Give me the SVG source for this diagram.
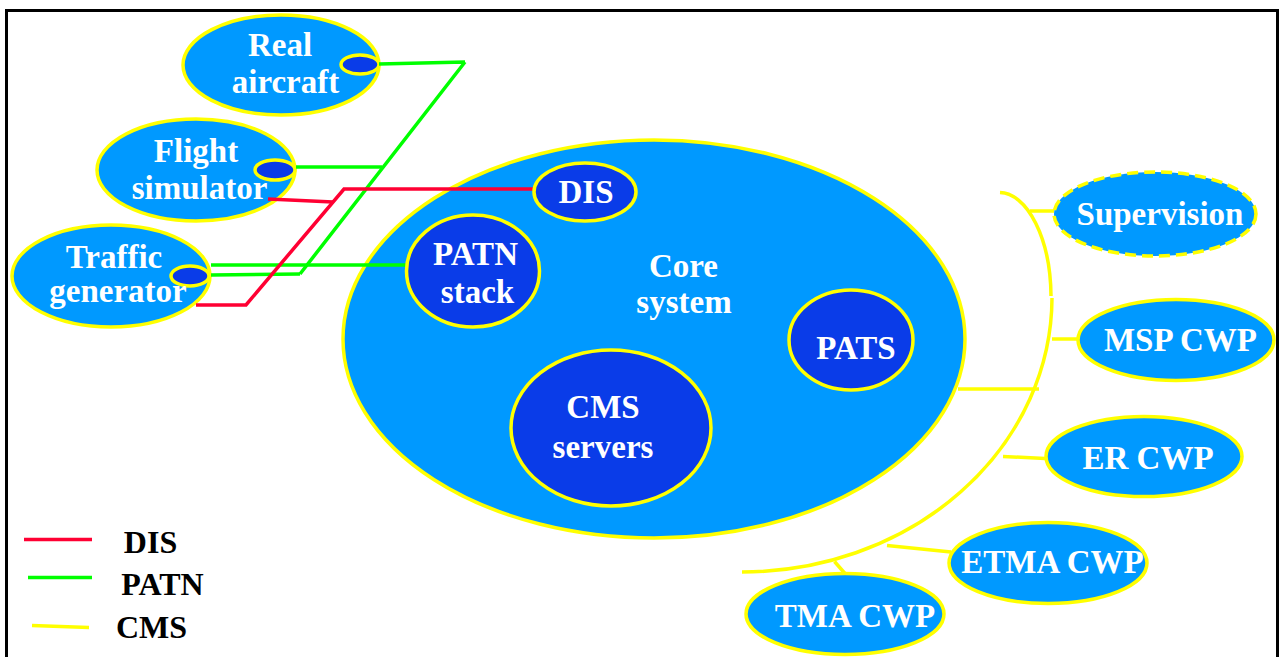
<svg xmlns="http://www.w3.org/2000/svg" width="1280" height="657" viewBox="0 0 1280 657">
<style>
  .lt { fill: #0099FF; stroke: #FFFF00; stroke-width: 3.5; }
  .dk { fill: #0A3CE8; stroke: #FFFF00; stroke-width: 3.5; }
  .dash { stroke-dasharray: 11 6; }
  .t { font-family: "Liberation Serif", "Times New Roman", serif; font-weight: bold; font-size: 33px; fill: #FFFFFF; text-anchor: middle; }
  .lg { font-family: "Liberation Serif", "Times New Roman", serif; font-weight: bold; font-size: 32px; fill: #000000; text-anchor: middle; }
  .red { stroke: #FF0033; stroke-width: 3.5; fill: none; }
  .grn { stroke: #00FF00; stroke-width: 3.5; fill: none; }
  .yel { stroke: #FFFF00; stroke-width: 3.5; fill: none; }
</style>
<rect width="1280" height="657" fill="#FFFFFF"/>
<path d="M6.5,660 V10.5 H1277.5 V660" fill="none" stroke="#000000" stroke-width="3"/>

<g id="real-aircraft">
  <ellipse class="lt" cx="281" cy="65" rx="98" ry="50"/>
  <ellipse class="dk" cx="360" cy="64.5" rx="19" ry="9.5"/>
  <text class="t" x="280" y="56">Real</text>
  <text class="t" x="285.5" y="93">aircraft</text>
</g>
<g id="flight-simulator">
  <ellipse class="lt" cx="196" cy="170" rx="99" ry="51"/>
  <ellipse class="dk" cx="275" cy="170" rx="20" ry="10"/>
  <text class="t" x="196" y="162">Flight</text>
  <text class="t" x="199.5" y="199">simulator</text>
</g>
<g id="traffic-generator">
  <ellipse class="lt" cx="111" cy="276" rx="99" ry="51"/>
  <ellipse class="dk" cx="190" cy="276" rx="19" ry="10"/>
  <text class="t" x="114" y="268">Traffic</text>
  <text class="t" x="118" y="302">generator</text>
</g>
<g id="core-system">
  <ellipse class="lt" cx="654" cy="339" rx="311" ry="199"/>
  <text class="t" x="683.5" y="277">Core</text>
  <text class="t" x="684" y="313">system</text>
</g>

<g id="connectors">
  <path class="grn" d="M379,64 L465,62 M465,62 L300,274"/>
  <path class="grn" d="M296,167 L382,167"/>
  <path class="grn" d="M211,265 L406,265"/>
  <path class="grn" d="M211,275 L300,274"/>
  <path class="red" d="M268,199 L333,202"/>
  <path class="red" d="M534,189 L344,189 L246,305 L196,305"/>
  <path class="yel" d="M1000,192.5 A52,105 0 0 1 1051,296"/>
  <path class="yel" d="M1052,298 A310,275 0 0 1 742,572"/>
  <path class="yel" d="M1030,211 L1054,211"/>
  <path class="yel" d="M1052,339 L1078,339"/>
  <path class="yel" d="M958,389 L1039,389"/>
  <path class="yel" d="M1003,456.5 L1045,458.5"/>
  <path class="yel" d="M887,545.5 L951,552"/>
  <path class="yel" d="M834.5,561.5 L848,577"/>
</g>

<g id="dis">
  <ellipse class="dk" cx="585" cy="192" rx="51" ry="29"/>
  <text class="t" x="586" y="203">DIS</text>
</g>
<g id="patn-stack">
  <ellipse class="dk" cx="473" cy="271" rx="66.5" ry="56"/>
  <text class="t" x="475.5" y="265">PATN</text>
  <text class="t" x="477.5" y="303">stack</text>
</g>
<g id="pats">
  <ellipse class="dk" cx="851" cy="340" rx="62" ry="50"/>
  <text class="t" x="856" y="359">PATS</text>
</g>
<g id="cms-servers">
  <ellipse class="dk" cx="611" cy="428" rx="100" ry="78"/>
  <text class="t" x="603" y="418">CMS</text>
  <text class="t" x="603" y="458">servers</text>
</g>
<g id="supervision">
  <ellipse class="lt dash" cx="1155" cy="214" rx="101" ry="42"/>
  <text class="t" x="1160" y="225">Supervision</text>
</g>
<g id="msp-cwp">
  <ellipse class="lt" cx="1176" cy="340" rx="98" ry="40.5"/>
  <text class="t" x="1180.5" y="351">MSP CWP</text>
</g>
<g id="er-cwp">
  <ellipse class="lt" cx="1144" cy="456.5" rx="98" ry="40"/>
  <text class="t" x="1148" y="469">ER CWP</text>
</g>
<g id="etma-cwp">
  <ellipse class="lt" cx="1048" cy="563" rx="99" ry="40.5"/>
  <text class="t" x="1052.5" y="573">ETMA CWP</text>
</g>
<g id="tma-cwp">
  <ellipse class="lt" cx="845" cy="614" rx="99" ry="40.5"/>
  <text class="t" x="855" y="627">TMA CWP</text>
</g>

<g id="legend">
  <line x1="24" y1="539.5" x2="92" y2="539.5" stroke="#FF0033" stroke-width="3.5"/>
  <text class="lg" x="150.5" y="553">DIS</text>
  <line x1="28" y1="577.5" x2="92" y2="577.5" stroke="#00FF00" stroke-width="3.5"/>
  <text class="lg" x="162.5" y="595">PATN</text>
  <line x1="32" y1="625.5" x2="89" y2="627.5" stroke="#FFFF00" stroke-width="3.5"/>
  <text class="lg" x="151.5" y="637.5">CMS</text>
</g>
</svg>
